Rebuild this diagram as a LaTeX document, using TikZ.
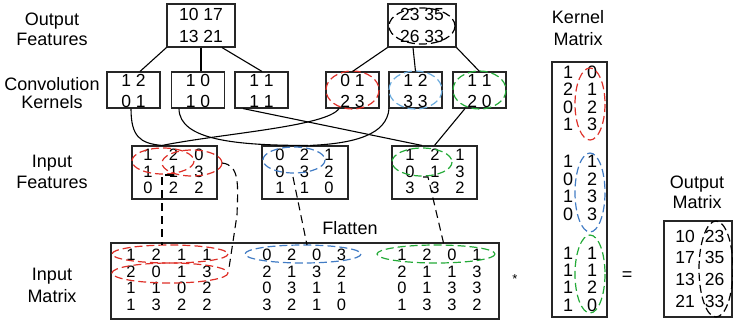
\documentclass[tikz,border=0pt]{standalone}
\usepackage{fontspec}
\setmainfont{Liberation Sans}
\definecolor{cred}{RGB}{222,48,40}
\definecolor{cblue}{RGB}{66,124,196}
\definecolor{clblue}{RGB}{108,172,222}
\definecolor{cgreen}{RGB}{36,170,56}
\begin{document}
\begin{tikzpicture}[x=1pt,y=-1pt,
  box/.style={draw=black!85, line width=1.1pt, inner sep=0pt},
  lbl/.style={font=\fontsize{18}{20}\selectfont, inner sep=0pt, anchor=base},
  num/.style={font=\fontsize{17.5}{20}\selectfont, inner sep=0pt},
  sml/.style={font=\fontsize{16.5}{19}\selectfont, inner sep=0pt},
  big/.style={font=\fontsize{18}{20}\selectfont, inner sep=0pt},
  wire/.style={line width=1.1pt, black},
  dline/.style={line width=1.1pt, black, dash pattern=on 8pt off 5pt},
  ring/.style={line width=1.2pt, dash pattern=on 8pt off 4pt}]
\useasboundingbox (0,0) rectangle (733,322);

% ---- row labels
\node[lbl] (lo1) at (52,25) {Output};
\node[lbl] (lo2) at (52,45) {Features};
\node[lbl] (lc1) at (52,90) {Convolution};
\node[lbl] (lc2) at (52,108) {Kernels};
\node[lbl] (li1) at (52,167) {Input};
\node[lbl] (li2) at (52,188) {Features};
\node[lbl] (lm1) at (52,280) {Input};
\node[lbl] (lm2) at (52,302) {Matrix};
\node[lbl] (lk1) at (578,23) {Kernel};
\node[lbl] (lk2) at (578,45) {Matrix};
\node[lbl] (lr1) at (697,188) {Output};
\node[lbl] (lr2) at (697,208) {Matrix};
\node[lbl] (lfl) at (350,234) {Flatten};
\node[font=\fontsize{13}{14}\selectfont, inner sep=0pt] (star) at (515,279) {*};
\node[big] (eq) at (627,276) {=};

% ---- output feature maps
\node[box, minimum width=68pt, minimum height=43pt] (of1) at (201,25.5) {};
\node[num] (of1a) at (201,14) {10 17};
\node[num] (of1b) at (201,36) {13 21};
\node[box, minimum width=68pt, minimum height=43pt] (of2) at (422,25.5) {};
\node[num] (of2a) at (422,14) {23 35};
\node[num] (of2b) at (422,36) {26 33};
\draw[ring, black] (422,26) ellipse [x radius=33, y radius=18];

% ---- convolution kernels
\foreach \n/\cx/\a/\b in {k1/133.5/1 2/0 1, k2/198/1 0/1 0, k3/261.5/1 1/1 1,
                          k4/352.5/0 1/2 3, k5/415.5/1 2/3 3, k6/479.5/1 1/2 0}{
  \node[box, minimum width=53pt, minimum height=36pt] (\n) at (\cx,90) {};
  \node[num] (\n a) at (\cx,80.5) {\a};
  \node[num] (\n b) at (\cx,101) {\b};
}
\draw[ring, cred]   (352.5,90) ellipse [x radius=26.5, y radius=19];
\draw[ring, clblue] (415.5,90) ellipse [x radius=26.5, y radius=19];
\draw[ring, cgreen] (479.5,90) ellipse [x radius=26.5, y radius=19];

% ---- input feature maps
\node[box, minimum width=85pt, minimum height=53pt] (f1) at (174.5,172.5) {};
\node[box, minimum width=86pt, minimum height=53pt] (f2) at (305,172.5) {};
\node[box, minimum width=85pt, minimum height=53pt] (f3) at (434.5,172.5) {};
\foreach \row [count=\i] in {{1,2,0},{1,1,3},{0,2,2}}
  \foreach \v [count=\j] in \row
    \node[sml] (fa-\i-\j) at ({148+25.5*(\j-1)},{155+16.5*(\i-1)}) {\v};
\foreach \row [count=\i] in {{0,2,1},{0,3,2},{1,1,0}}
  \foreach \v [count=\j] in \row
    \node[sml] (fb-\i-\j) at ({280+24.5*(\j-1)},{155+16.5*(\i-1)}) {\v};
\foreach \row [count=\i] in {{1,2,1},{0,1,3},{3,3,2}}
  \foreach \v [count=\j] in \row
    \node[sml] (fc-\i-\j) at ({410+25*(\j-1)},{155+16.5*(\i-1)}) {\v};
\draw[ring, cred]   (163,161) ellipse [x radius=31, y radius=13];
\draw[ring, cred]   (192,163) ellipse [x radius=30, y radius=13];
\draw[ring, cblue]  (294,160) ellipse [x radius=31, y radius=13];
\draw[ring, cgreen] (422,162) ellipse [x radius=30, y radius=14];

% ---- flattened input matrix
\node[box, minimum width=388pt, minimum height=76pt] (im) at (305,281) {};
\foreach \row [count=\i] in {{1,2,1,1},{2,0,1,3},{1,1,0,2},{1,3,2,2}}
  \foreach \v [count=\j] in \row
    \node[sml] (ma-\i-\j) at ({131+25.3*(\j-1)},{255+16.5*(\i-1)}) {\v};
\foreach \row [count=\i] in {{0,2,0,3},{2,1,3,2},{0,3,1,1},{3,2,1,0}}
  \foreach \v [count=\j] in \row
    \node[sml] (mb-\i-\j) at ({267+24.8*(\j-1)},{255+16.5*(\i-1)}) {\v};
\foreach \row [count=\i] in {{1,2,0,1},{2,1,1,3},{0,1,3,3},{1,3,3,2}}
  \foreach \v [count=\j] in \row
    \node[sml] (mc-\i-\j) at ({402+25*(\j-1)},{255+16.5*(\i-1)}) {\v};
\draw[ring, cred]   (170,254) ellipse [x radius=58, y radius=9];
\draw[ring, cred]   (170,273) ellipse [x radius=58, y radius=10];
\draw[ring, cblue]  (303,254) ellipse [x radius=58, y radius=9];
\draw[ring, cgreen] (436,254) ellipse [x radius=59, y radius=9];

% ---- kernel matrix
\node[box, minimum width=55pt, minimum height=255pt] (km) at (579.5,189.5) {};
\foreach \a/\b/\y [count=\i] in {1/0/72, 2/1/89.5, 0/2/107, 1/3/124.5,
                                 1/1/161.5, 0/2/179, 1/3/196.5, 0/3/214,
                                 1/1/253, 1/1/270, 1/2/287.5, 1/0/305}{
  \node[big] (kl-\i) at (568,\y) {\a};
  \node[big] (kr-\i) at (592,\y) {\b};
}
\draw[ring, cred]   (590,104)   ellipse [x radius=15, y radius=36];
\draw[ring, cblue]  (590,192.5) ellipse [x radius=15, y radius=39.5];
\draw[ring, cgreen] (590,274)   ellipse [x radius=15, y radius=39];

% ---- output matrix
\node[box, minimum width=68pt, minimum height=96pt] (om) at (698,269) {};
\foreach \a/\b/\y [count=\i] in {10/23/236, 17/35/257.5, 13/26/279, 21/33/301}{
  \node[num] (ol-\i) at (685,\y) {\a};
  \node[num] (or-\i) at (714.5,\y) {\b};
}
\draw[ring, black] (716,269) ellipse [x radius=17, y radius=48];

% ---- output features from kernels
\draw[wire] (of1.south west) -- ([xshift=6.5pt]k1.north);
\draw[wire] (of1.south) -- ([xshift=3pt]k2.north);
\draw[wire] ([xshift=21pt]of1.south) -- ([xshift=0.5pt]k3.north);
\draw[wire] (of2.south west) -- (k4.north);
\draw[wire] ([xshift=-9pt]of2.south) -- (k5.north);
\draw[wire] (of2.south east) -- (k6.north);

% ---- kernels to input features
\draw[wire] ([xshift=-2.5pt]k1.south) .. controls +(0,28) and +(-22,-2) .. ([xshift=-12.5pt]f1.north);
\draw[wire] ([xshift=-19pt]k2.south) .. controls +(0,32) and +(-70,0) .. ([xshift=3pt]f2.north);
\draw[wire] ([xshift=-18.5pt]k3.south) -- ([xshift=-12.5pt]f3.north);
\draw[wire] ([xshift=-13.5pt]k4.south) .. controls +(-12,18) and +(60,-12) .. ([xshift=-12.5pt]f1.north);
\draw[wire] ([xshift=-26.5pt]k5.south) .. controls +(-2,26) and +(45,-2) .. ([xshift=5pt]f2.north);
\draw[wire] ([xshift=-14.5pt]k6.south) -- (f3.north);

% ---- flattening links
\coordinate (d1s) at (173,175);
\coordinate (d1e) at (162,245);
\draw[dline] (d1s) -| (d1e);
\coordinate (d2s) at (222,163);
\coordinate (d2e) at (229,268);
\draw[dline] (d2s) .. controls (240,165) and (238,185) .. (237,215) -- (d2e);
\coordinate (d3s) at (293,177);
\coordinate (d3e) at (307,245);
\draw[dline] (d3s) -- (d3e);
\coordinate (d4s) at (423,177);
\coordinate (d4e) at (444,245);
\draw[dline] (d4s) -- (428,177) -- (d4e);
\end{tikzpicture}
\end{document}
